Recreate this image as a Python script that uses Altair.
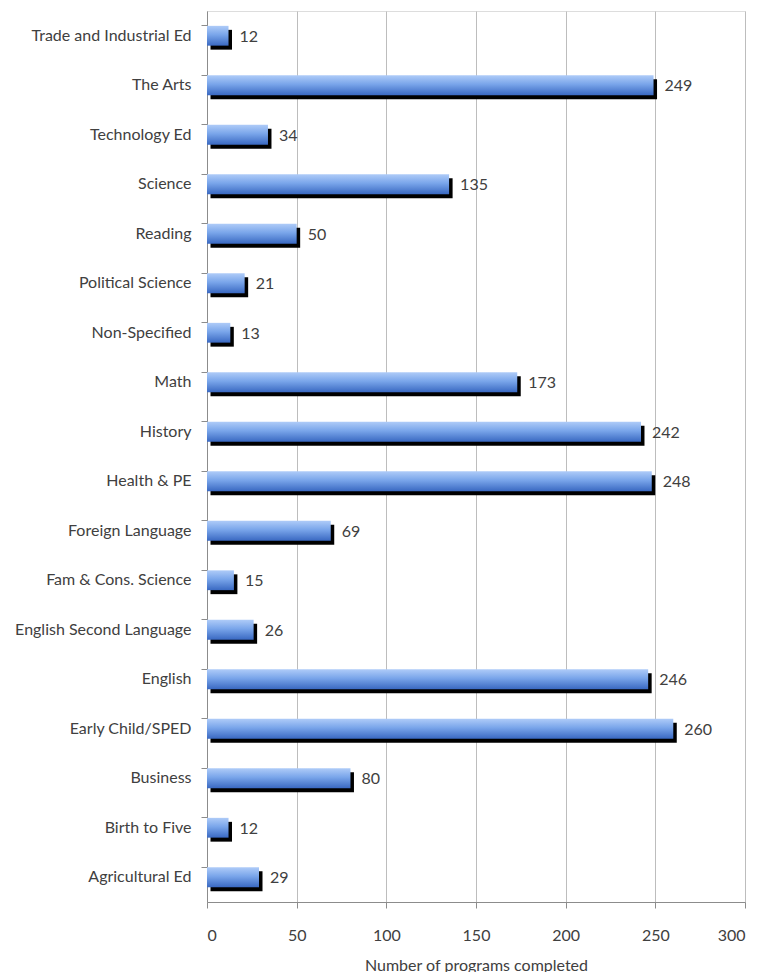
import altair as alt
import pandas as pd

categories = [
    "Trade and Industrial Ed", "The Arts", "Technology Ed", "Science", "Reading",
    "Political Science", "Non-Specified", "Math", "History", "Health & PE",
    "Foreign Language", "Fam & Cons. Science", "English Second Language", "English",
    "Early Child/SPED", "Business", "Birth to Five", "Agricultural Ed",
]
values = [12, 249, 34, 135, 50, 21, 13, 173, 242, 248, 69, 15, 26, 246, 260, 80, 12, 29]
x_ticks = [0, 50, 100, 150, 200, 250, 300]

df = pd.DataFrame({"category": categories, "value": values})

FONT = "Lato"
TXT = "#404040"
FS = 16

y_enc = alt.Y(
    "category:N",
    sort=categories,
    scale=alt.Scale(paddingInner=0.6, paddingOuter=0.3),
    axis=alt.Axis(
        title=None, bandPosition=0, domainColor="#8c8c8c", tickColor="#8c8c8c",
        tickSize=6, labelPadding=10, labelFontSize=FS, labelFont=FONT,
        labelColor=TXT, grid=False,
    ),
)
x_enc = alt.X(
    "value:Q",
    scale=alt.Scale(domain=[0, 300], nice=False),
    axis=alt.Axis(
        values=x_ticks, title="Number of programs completed", titleFont=FONT,
        titleFontSize=FS, titleFontWeight="normal", titleColor=TXT, titlePadding=14,
        labelFont=FONT, labelFontSize=FS, labelColor=TXT, labelPadding=19,
        grid=True, gridColor="#bdbdbd", gridWidth=1, domainColor="#8c8c8c",
        tickColor="#8c8c8c", tickSize=6,
    ),
)

base = alt.Chart(df)

shadow = base.mark_bar(color="black", xOffset=3.5, yOffset=4, cornerRadius=0).encode(
    x=x_enc, y=y_enc
)

gradient = alt.Gradient(
    gradient="linear",
    stops=[
        alt.GradientStop(color="#aecbf8", offset=0),
        alt.GradientStop(color="#79a5ea", offset=0.45),
        alt.GradientStop(color="#3a69c2", offset=1),
    ],
    x1=0, x2=0, y1=0, y2=1,
)
bars = base.mark_bar(color=gradient).encode(x="value:Q", y=alt.Y("category:N", sort=categories))

labels = base.mark_text(
    align="left", baseline="middle", dx=11, dy=1, font=FONT, fontSize=FS, color=TXT
).encode(x="value:Q", y=alt.Y("category:N", sort=categories), text="value:Q")

chart = (
    alt.layer(shadow, bars, labels)
    .properties(
        width=538, height=891,
        autosize=alt.AutoSizeParams(type="none"),
        padding={"left": 199, "top": 3, "right": 19, "bottom": 70},
    )
    .configure_view(stroke=None)
    .configure(background="white")
)

chart.save("out.html", embed_options={"renderer": "svg", "actions": False})
